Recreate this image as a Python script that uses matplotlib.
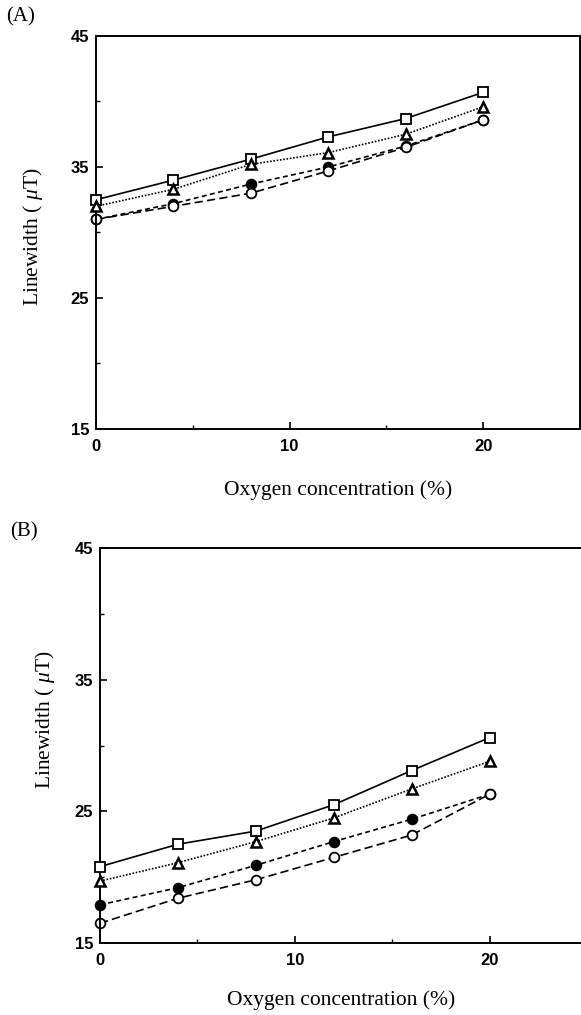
import numpy as np
import matplotlib.pyplot as plt
from matplotlib.ticker import MultipleLocator

# ------------------------------------------------------------
#  Datos
# ------------------------------------------------------------
oxygen = [0, 4, 8, 12, 16, 20]

# Panel A
a_square = [32.5, 34.0, 35.6, 37.3, 38.7, 40.7]
a_triangle = [32.0, 33.3, 35.2, 36.1, 37.5, 39.6]
a_filled = [31.0, 32.2, 33.7, 35.0, 36.6, 38.6]
a_open = [31.0, 32.0, 33.0, 34.7, 36.5, 38.6]

# Panel B
b_square = [20.8, 22.5, 23.5, 25.5, 28.1, 30.6]
b_triangle = [19.7, 21.1, 22.7, 24.5, 26.7, 28.8]
b_filled = [17.9, 19.2, 20.9, 22.7, 24.4, 26.3]
b_open = [16.5, 18.4, 19.8, 21.5, 23.2, 26.3]

y_ticks = [15, 25, 35, 45]
x_ticks = [0, 10, 20]

plt.rcParams.update({
    "font.family": "serif",
    "font.serif": ["Liberation Serif", "DejaVu Serif"],
    "mathtext.fontset": "custom",
    "mathtext.it": "Liberation Serif:italic",
    "mathtext.rm": "Liberation Serif",
})

W, H = 581, 1015
fig = plt.figure(figsize=(W / 100, H / 100), dpi=100)


def px_axes(left, top, right, bottom):
    return fig.add_axes([left / W, 1 - bottom / H, (right - left) / W, (bottom - top) / H])


def draw_panel(ax, sq, tri, fil, opn, xlab_pos, ylab_pos):
    lw = 1.2
    ms = 7
    ax.plot(oxygen, sq, color="black", lw=lw, ls="-", marker="s", ms=ms,
            mfc="white", mec="black", mew=1.3, zorder=3, clip_on=False)
    ax.plot(oxygen, tri, color="black", lw=lw, ls=(0, (1, 1)), marker="^", ms=6.5,
            mfc="white", mec="black", mew=1.8, zorder=3, clip_on=False)
    ax.plot(oxygen, fil, color="black", lw=lw, ls=(0, (3, 2)), marker="o", ms=ms,
            mfc="black", mec="black", mew=1.3, zorder=2, clip_on=False)
    ax.plot(oxygen, opn, color="black", lw=lw, ls=(0, (5, 2.5)), marker="o", ms=ms,
            mfc="white", mec="black", mew=1.3, zorder=2.5, clip_on=False)

    ax.set_xlim(0, 25)
    ax.set_ylim(15, 45)
    ax.set_xticks(x_ticks)
    ax.set_yticks(y_ticks)
    ax.xaxis.set_minor_locator(MultipleLocator(5))
    ax.yaxis.set_minor_locator(MultipleLocator(5))
    ax.tick_params(which="major", direction="in", length=5, width=1.2,
                   top=False, right=False)
    ax.tick_params(which="minor", direction="in", length=3, width=1.0,
                   top=False, right=False)
    ax.tick_params(axis="x", pad=7)
    ax.tick_params(axis="y", pad=5)
    for lab in ax.get_xticklabels() + ax.get_yticklabels():
        lab.set_fontfamily("Liberation Sans")
        lab.set_fontweight("bold")
        lab.set_fontsize(12)
    for sp in ax.spines.values():
        sp.set_linewidth(1.4)

    ax.set_xlabel("Oxygen concentration (%)", fontsize=15.5, va="center")
    ax.set_ylabel(r"Linewidth ( $\mu$T)", fontsize=15.5, va="center")
    ax.xaxis.set_label_coords(*xlab_pos)
    ax.yaxis.set_label_coords(*ylab_pos)


ax_a = px_axes(96, 36, 580, 429)
draw_panel(ax_a, a_square, a_triangle, a_filled, a_open,
           (0.5, -0.155), (-0.13, 0.49))
ax_b = px_axes(100, 548, 587, 943)
draw_panel(ax_b, b_square, b_triangle, b_filled, b_open,
           (0.495, -0.144), (-0.113, 0.565))

fig.text(6 / W, 1 - 17 / H, "(A)", fontsize=15, va="center", ha="left")
fig.text(10 / W, 1 - 532 / H, "(B)", fontsize=15, va="center", ha="left")

fig.savefig("out.png", dpi=100)
